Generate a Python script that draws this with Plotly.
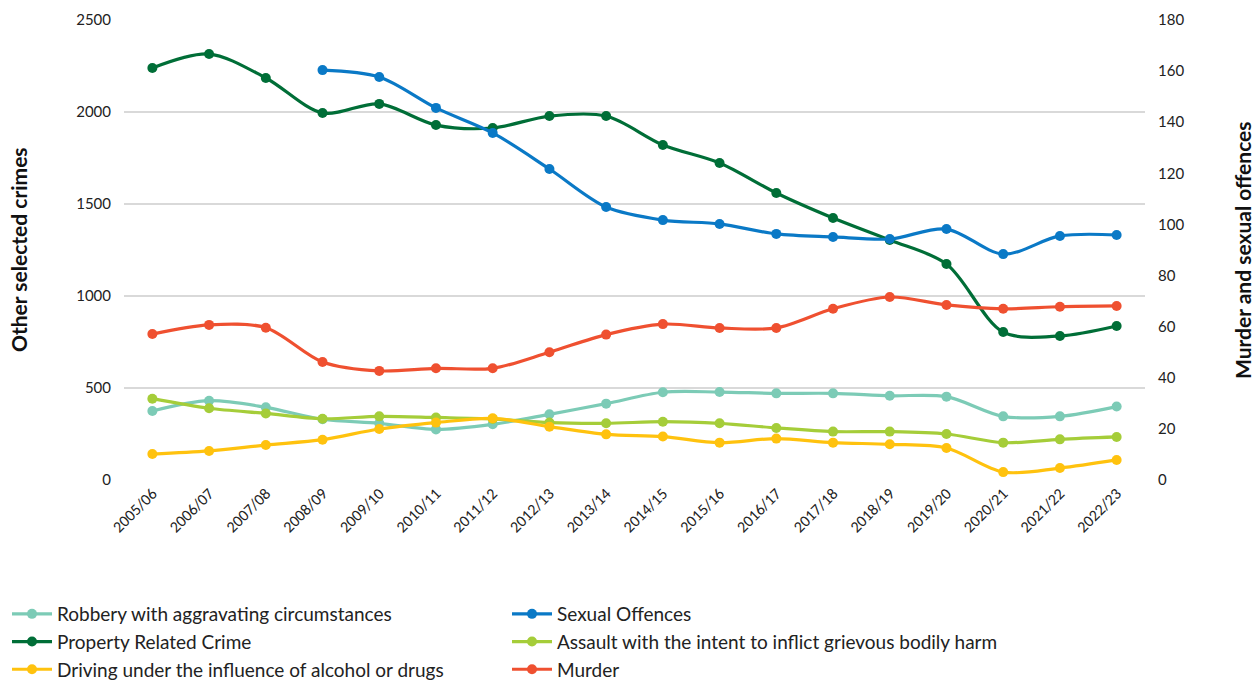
import plotly.graph_objects as go

years = ["2005/06", "2006/07", "2007/08", "2008/09", "2009/10", "2010/11", "2011/12",
         "2012/13", "2013/14", "2014/15", "2015/16", "2016/17", "2017/18", "2018/19",
         "2019/20", "2020/21", "2021/22", "2022/23"]

robbery = [375, 431, 395, 330, 308, 275, 303, 357, 415, 477, 478, 471, 471, 458, 453, 346, 346, 399]
property_crime = [2239, 2315, 2185, 1995, 2044, 1929, 1913, 1978, 1978, 1821, 1723, 1560, 1424, 1304, 1174, 804, 783, 837]
dui = [141, 158, 190, 219, 277, 312, 335, 290, 248, 236, 203, 225, 203, 194, 174, 43, 65, 109]
assault = [442, 390, 362, 333, 346, 340, 332, 312, 308, 317, 308, 283, 263, 263, 250, 203, 221, 234]
sexual = [None, None, None, 160.4, 157.7, 145.6, 135.8, 121.7, 106.8, 101.7, 100.2, 96.3, 95.1, 94.3, 98.2, 88.4, 95.5, 95.9]
murder = [57.1, 60.7, 59.6, 46.2, 42.7, 43.7, 43.7, 50.0, 56.9, 61.0, 59.5, 59.5, 67.0, 71.6, 68.5, 67.0, 67.8, 68.1]

left_ticks = [0, 500, 1000, 1500, 2000, 2500]
right_ticks = [0, 20, 40, 60, 80, 100, 120, 140, 160, 180]

series = [
    ("Robbery with aggravating circumstances", robbery, "#7CCBB6", "y"),
    ("Sexual Offences", sexual, "#0A79C6", "y2"),
    ("Property Related Crime", property_crime, "#006E37", "y"),
    ("Assault with the intent to inflict grievous bodily harm", assault, "#A5CD39", "y"),
    ("Driving under the influence of alcohol or drugs", dui, "#FFC20E", "y"),
    ("Murder", murder, "#EF5030", "y2"),
]

FONT = "Lato, 'Open Sans', sans-serif"

fig = go.Figure()
for name, vals, color, axis in series:
    fig.add_trace(go.Scatter(
        x=years, y=vals, name=name, yaxis=axis, mode="lines+markers",
        line=dict(color=color, width=3.2, shape="spline", smoothing=0.9),
        marker=dict(color=color, size=10),
        connectgaps=False,
    ))

fig.update_layout(
    width=1259, height=684,
    margin=dict(l=124, r=114, t=20, b=204, autoexpand=False),
    paper_bgcolor="white", plot_bgcolor="white",
    font=dict(family=FONT, size=15, color="#222222"),
    showlegend=True,
    legend=dict(
        orientation="h", xref="container", yref="container",
        x=7 / 1259, xanchor="left", y=1 - 595 / 684, yanchor="top",
        entrywidth=445, entrywidthmode="pixels",
        font=dict(family=FONT, size=19, color="#222222"),
        itemwidth=40, tracegroupgap=0,
    ),
    xaxis=dict(
        type="category", range=[-0.5, 17.5], tickangle=-45,
        showgrid=False, showline=False, zeroline=False, ticks="",
        tickfont=dict(family="Carlito, Calibri, 'Liberation Sans', sans-serif", size=16, color="#222222"),
    ),
    yaxis=dict(
        range=[0, 2500], tickvals=left_ticks, showgrid=True, gridcolor="#D9D9D9", gridwidth=1.5,
        zeroline=False, showline=False, ticks="", ticklabelstandoff=12,
        tickfont=dict(size=15),
    ),
    yaxis2=dict(
        range=[0, 180], tickvals=right_ticks, overlaying="y", side="right",
        showgrid=False, zeroline=False, showline=False, ticks="", ticklabelstandoff=12,
        tickfont=dict(size=15),
    ),
    annotations=[
        dict(text="<b>Other selected crimes</b>", x=0, y=0.5, xref="paper", yref="paper",
             xanchor="center", yanchor="middle", xshift=-106, textangle=-90, showarrow=False,
             font=dict(family=FONT, size=21, color="#111111")),
        dict(text="<b>Murder and sexual offences</b>", x=1, y=0.5, xref="paper", yref="paper",
             xanchor="center", yanchor="middle", xshift=97, textangle=-90, showarrow=False,
             font=dict(family=FONT, size=21, color="#111111")),
    ],
)

fig.write_html("out.html")
